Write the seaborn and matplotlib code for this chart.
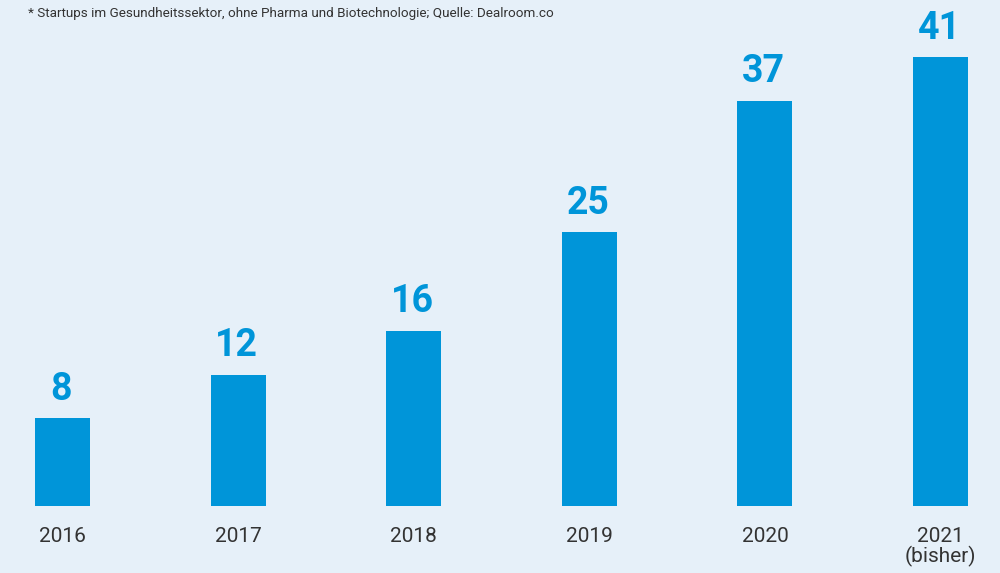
import matplotlib
matplotlib.use("Agg")
import matplotlib.pyplot as plt
import seaborn as sns
import pandas as pd

years = ["2016", "2017", "2018", "2019", "2020", "2021\n(bisher)"]
values = [8, 12, 16, 25, 37, 41]
note = "* Startups im Gesundheitssektor, ohne Pharma und Biotechnologie; Quelle: Dealroom.co"

bg = "#E6F0F9"
blue = "#0095D9"

sns.set_theme(style="white")
plt.rcParams["font.family"] = ["Roboto", "DejaVu Sans"]

df = pd.DataFrame({"year": years, "value": values})

fig = plt.figure(figsize=(10, 5.73), dpi=100, facecolor=bg)
# axes bottom sits on the bar baseline
ax = fig.add_axes([0, 67 / 573, 1, 506 / 573])
ax.set_facecolor(bg)

sns.barplot(data=df, x="year", y="value", color=blue, saturation=1, width=0.313,
            linewidth=0, ax=ax)

for i, v in enumerate(values):
    ax.annotate(str(v), (i, v), xytext=(-1, 7.5), textcoords="offset points",
                ha="center", va="bottom", fontsize=27, fontweight="bold", color=blue)

ax.set_xlim(-0.356, 5.339)
ax.set_ylim(0, 46.2)
ax.set_xlabel("")
ax.set_ylabel("")
ax.set_yticks([])
ax.tick_params(axis="x", length=0, pad=15, labelsize=15, labelcolor="#333333")
for lbl in ax.get_xticklabels():
    lbl.set_linespacing(1.0)
for s in ax.spines.values():
    s.set_visible(False)

fig.text(0.028, 0.988, note, ha="left", va="top", fontsize=9.7, color="#333333")

fig.savefig("out.png", dpi=100, facecolor=bg)
